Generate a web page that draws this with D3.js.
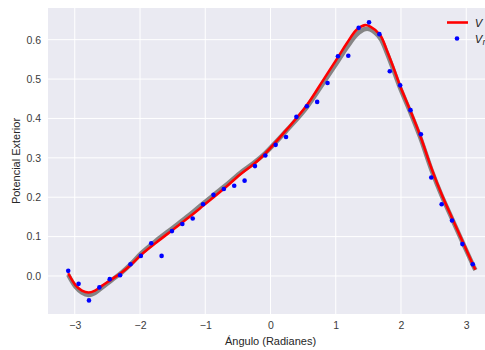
<!DOCTYPE html>
<html>
<head>
<meta charset="utf-8">
<script src="https://cdn.jsdelivr.net/npm/d3@7"></script>
<style>
  html, body { margin: 0; padding: 0; background: #ffffff; }
  svg { display: block; }
  text { font-family: "Liberation Sans", Arial, "DejaVu Sans", sans-serif; }
</style>
</head>
<body>
<svg id="chart" width="485" height="350"></svg>
<script>
// Measured samples (angle in radians)
const sampleAngles = [-3.1, -2.941, -2.782, -2.623, -2.464, -2.305, -2.146, -1.987, -1.828, -1.669,
  -1.510, -1.351, -1.192, -1.033, -0.874, -0.715, -0.556, -0.397, -0.238, -0.079,
  0.079, 0.238, 0.397, 0.556, 0.715, 0.874, 1.033, 1.192, 1.351, 1.510,
  1.669, 1.828, 1.987, 2.146, 2.305, 2.464, 2.623, 2.782, 2.941, 3.1];
const sampleVr = [0.013, -0.020, -0.062, -0.029, -0.008, 0.002, 0.030, 0.051, 0.083, 0.051,
  0.114, 0.132, 0.146, 0.182, 0.206, 0.221, 0.229, 0.242, 0.279, 0.306,
  0.333, 0.353, 0.404, 0.431, 0.442, 0.490, 0.558, 0.559, 0.630, 0.644,
  0.614, 0.520, 0.484, 0.421, 0.360, 0.250, 0.182, 0.141, 0.081, 0.030];

// Angles at which the curves are tabulated
const curveAngles = [-3.10, -2.99, -2.89, -2.79, -2.69, -2.585, -2.43, -2.28, -2.13, -1.98,
  -1.75, -1.5, -1.25, -1.02, -0.71, -0.47, -0.25, -0.08, 0.25, 0.55,
  0.81, 1.04, 1.17, 1.32, 1.45, 1.53, 1.68, 1.78, 1.88, 1.98,
  2.14, 2.29, 2.47, 2.62, 2.78, 2.94, 3.10, 3.14];

// Fitted potential V (red)
const fitV = [0.007, -0.023, -0.037, -0.042, -0.037, -0.025, -0.008, 0.009, 0.030, 0.054,
  0.085, 0.117, 0.149, 0.180, 0.222, 0.257, 0.285, 0.311, 0.372, 0.432,
  0.498, 0.557, 0.591, 0.625, 0.637, 0.633, 0.612, 0.574, 0.531, 0.485,
  0.421, 0.358, 0.272, 0.208, 0.148, 0.089, 0.030, 0.016];

// Ensemble band (grey)
const bandV = [0.003, -0.027, -0.042, -0.048, -0.043, -0.030, -0.010, 0.009, 0.032, 0.058,
  0.090, 0.122, 0.154, 0.186, 0.227, 0.261, 0.288, 0.312, 0.370, 0.427,
  0.490, 0.547, 0.580, 0.613, 0.627, 0.626, 0.604, 0.568, 0.525, 0.480,
  0.417, 0.354, 0.268, 0.205, 0.146, 0.087, 0.029, 0.015];

const xTicks = [-3, -2, -1, 0, 1, 2, 3];
const yTicks = [0.0, 0.1, 0.2, 0.3, 0.4, 0.5, 0.6];

const svg = d3.select("#chart");
const plot = { left: 48, top: 8, right: 493, bottom: 314 };

const x = d3.scaleLinear().domain([-3.41, 3.41]).range([plot.left, plot.right]);
const y = d3.scaleLinear().domain([-0.0965, 0.6804]).range([plot.bottom, plot.top]);

// Background
svg.append("rect")
  .attr("x", plot.left).attr("y", plot.top)
  .attr("width", plot.right - plot.left).attr("height", plot.bottom - plot.top)
  .attr("fill", "#EAEAF2");

// Grid
const grid = svg.append("g");
grid.selectAll("line.gx").data(xTicks).join("line")
  .attr("x1", d => x(d)).attr("x2", d => x(d))
  .attr("y1", plot.top).attr("y2", plot.bottom)
  .attr("stroke", "#ffffff").attr("stroke-width", 1);
grid.selectAll("line.gy").data(yTicks).join("line")
  .attr("y1", d => y(d)).attr("y2", d => y(d))
  .attr("x1", plot.left).attr("x2", plot.right)
  .attr("stroke", "#ffffff").attr("stroke-width", 1);

// Axes (labels only, seaborn style)
const fmtX = d => (d < 0 ? "\u2212" + Math.abs(d) : String(d));
const xAxis = d3.axisBottom(x).tickValues(xTicks).tickFormat(fmtX).tickSize(0).tickPadding(8);
const yAxis = d3.axisLeft(y).tickValues(yTicks).tickFormat(d3.format(".1f")).tickSize(0).tickPadding(7);

const gx = svg.append("g").attr("transform", `translate(0,${plot.bottom})`).call(xAxis);
const gy = svg.append("g").attr("transform", `translate(${plot.left},0)`).call(yAxis);
[gx, gy].forEach(g => {
  g.select(".domain").remove();
  g.selectAll("text").attr("fill", "#3b3b3b").style("font-size", "10.5px")
    .style("font-family", '"Liberation Sans", Arial, sans-serif');
});

// Axis titles
svg.append("text")
  .attr("x", x(0)).attr("y", 345)
  .attr("text-anchor", "middle").attr("fill", "#262626")
  .style("font-size", "11px")
  .text("Ángulo (Radianes)");
svg.append("text")
  .attr("transform", `translate(20,${(plot.top + plot.bottom) / 2}) rotate(-90)`)
  .attr("text-anchor", "middle").attr("fill", "#262626")
  .style("font-size", "11px")
  .text("Potencial Exterior");

// Curves
const line = d3.line().curve(d3.curveCatmullRom.alpha(0.5));

svg.append("path")
  .attr("d", line(curveAngles.map((a, i) => [x(a), y(bandV[i])])))
  .attr("fill", "none").attr("stroke", "#858585").attr("stroke-width", 4.5)
  .attr("stroke-linecap", "butt");

svg.append("path")
  .attr("d", line(curveAngles.map((a, i) => [x(a), y(fitV[i])])))
  .attr("fill", "none").attr("stroke", "#ff0000").attr("stroke-width", 2.6)
  .attr("stroke-linecap", "butt");

// Sample points
svg.append("g").selectAll("circle").data(sampleAngles).join("circle")
  .attr("cx", (d) => x(d))
  .attr("cy", (d, i) => y(sampleVr[i]))
  .attr("r", 2.3)
  .attr("fill", "#0000ff");

// Legend
const lg = svg.append("g");
lg.append("line")
  .attr("x1", 447).attr("x2", 468).attr("y1", 22.5).attr("y2", 22.5)
  .attr("stroke", "#ff0000").attr("stroke-width", 2.6);
lg.append("text")
  .attr("x", 475).attr("y", 26.5)
  .attr("fill", "#262626").style("font-size", "11px").style("font-style", "italic")
  .style("font-family", '"DejaVu Sans", sans-serif')
  .text("V");
lg.append("circle")
  .attr("cx", 457).attr("cy", 38.5).attr("r", 2.3).attr("fill", "#0000ff");
const t2 = lg.append("text")
  .attr("x", 475).attr("y", 42.5)
  .attr("fill", "#262626").style("font-size", "11px").style("font-style", "italic")
  .style("font-family", '"DejaVu Sans", sans-serif');
t2.append("tspan").text("V");
t2.append("tspan").attr("dy", 2.5).style("font-size", "8px").text("r");
</script>
</body>
</html>
